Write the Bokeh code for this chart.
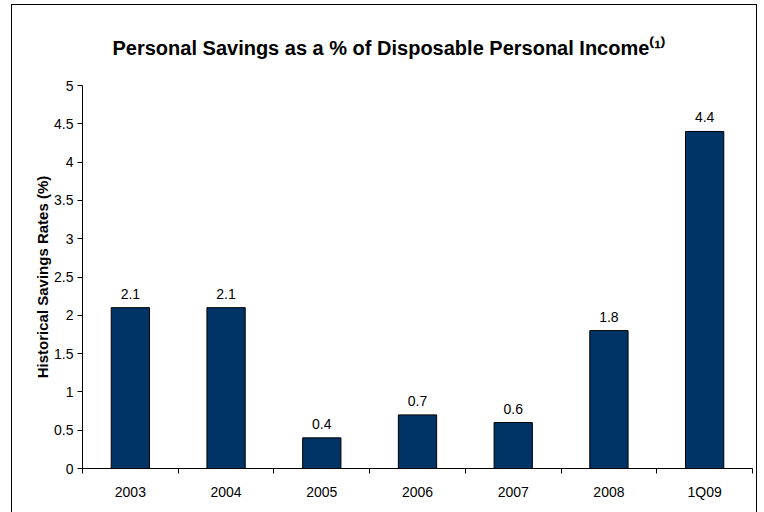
from bokeh.plotting import figure
from bokeh.models import ColumnDataSource, FixedTicker, LabelSet, Range1d
from bokeh.core.properties import value
from bokeh.embed import file_html
from bokeh.resources import INLINE

categories = ["2003", "2004", "2005", "2006", "2007", "2008", "1Q09"]
savings_rate = [2.1, 2.1, 0.4, 0.7, 0.6, 1.8, 4.4]
y_ticks = [0, 0.5, 1, 1.5, 2, 2.5, 3, 3.5, 4, 4.5, 5]
y_tick_labels = ["0", "0.5", "1", "1.5", "2", "2.5", "3", "3.5", "4", "4.5", "5"]
title_text = "Personal Savings as a % of Disposable Personal Income\u207d\u00b9\u207e"
y_title = "Historical Savings Rates (%)"

FONT = "Liberation Sans"
BAR = "#003366"

xs = [i + 0.5 for i in range(len(categories))]
src = ColumnDataSource(dict(x=xs, top=savings_rate,
                            lbl=[f"{v:g}" for v in savings_rate]))

W, H = 744, 507
p = figure(width=W, height=H, output_backend="svg", toolbar_location=None,
           x_range=Range1d(0, len(categories)), y_range=Range1d(0, 5),
           min_border_left=70, min_border_right=4, min_border_top=80,
           min_border_bottom=44, tools="")
p.styles = {"margin-left": "12px", "margin-top": "5px",
            "outline": "1px solid #000000"}
p.outline_line_color = None
p.xgrid.grid_line_color = None
p.ygrid.grid_line_color = None
p.background_fill_color = "white"
p.border_fill_color = "white"

p.title.text = title_text
p.title.align = "left"
p.title.offset = 30
p.title.standoff = 54
p.title.text_font = FONT
p.title.text_font_size = "20px"
p.title.text_font_style = "bold"
p.title.text_color = "#000000"

p.vbar(x="x", top="top", width=0.4, bottom=0, source=src,
       fill_color=BAR, line_color="#000000", line_width=1)

p.add_layout(LabelSet(x="x", y="top", text="lbl", source=src,
                      text_align="center", text_baseline="bottom", y_offset=9,
                      text_font=value(FONT), text_font_size="14px",
                      text_color="#000000"))

# x axis
xa = p.xaxis[0]
xa.ticker = FixedTicker(ticks=xs, minor_ticks=list(range(len(categories) + 1)))
xa.major_label_overrides = {x: c for x, c in zip(xs, categories)}
xa.major_tick_line_color = None
xa.major_tick_out = 0
xa.major_tick_in = 0
xa.minor_tick_out = 5
xa.minor_tick_in = 0
xa.minor_tick_line_color = "#000000"
xa.axis_line_color = "#000000"
xa.major_label_standoff = 10
xa.major_label_text_font = FONT
xa.major_label_text_font_size = "14px"
xa.major_label_text_color = "#000000"

# y axis
ya = p.yaxis[0]
ya.ticker = FixedTicker(ticks=y_ticks, minor_ticks=[])
ya.major_label_overrides = {t: s for t, s in zip(y_ticks, y_tick_labels)}
ya.major_tick_out = 5
ya.major_tick_in = 0
ya.major_tick_line_color = "#000000"
ya.axis_line_color = "#000000"
ya.major_label_standoff = 4
ya.major_label_text_font = FONT
ya.major_label_text_font_size = "14px"
ya.major_label_text_color = "#000000"
ya.axis_label = y_title
ya.axis_label_text_font = FONT
ya.axis_label_text_font_size = "15px"
ya.axis_label_text_font_style = "bold"
ya.axis_label_text_color = "#000000"
ya.axis_label_standoff = 0

open("out.html", "w").write(file_html(p, INLINE))
